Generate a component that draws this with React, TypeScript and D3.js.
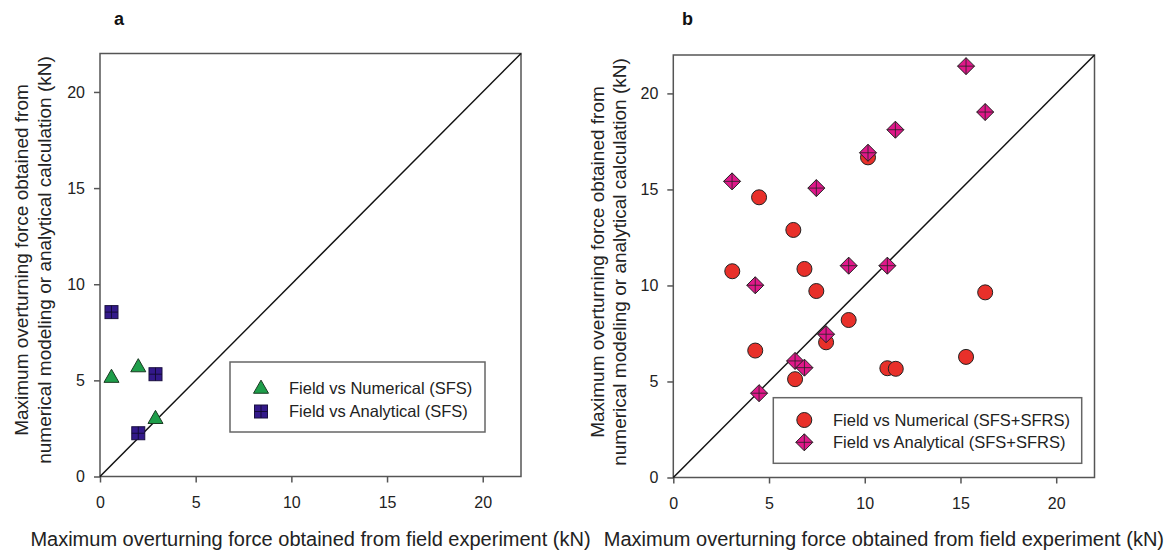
import React, { useRef, useEffect } from 'react';
import * as d3 from 'd3';

// panel a (SFS)
const aNumField = [0.6, 2.0, 2.9];
const aNumValue = [5.17, 5.72, 3.03];
const aAnaField = [0.6, 2.9, 2.0];
const aAnaValue = [8.55, 5.32, 2.25];

// panel b (SFS+SFRS)
const bNumField = [3.08, 4.28, 4.48, 6.27, 6.36, 6.85, 7.47, 7.98, 9.16, 10.17, 11.18, 11.62, 15.29, 16.29];
const bNumValue = [10.74, 6.61, 14.59, 12.89, 5.12, 10.86, 9.71, 7.04, 8.2, 16.67, 5.69, 5.66, 6.28, 9.64];
const bAnaField = [3.07, 4.28, 4.48, 6.36, 6.85, 7.47, 7.98, 9.16, 10.17, 11.18, 11.6, 15.29, 16.29];
const bAnaValue = [15.42, 10.01, 4.39, 6.07, 5.72, 15.07, 7.46, 11.03, 16.91, 11.03, 18.11, 21.42, 19.03];

const ticks = [0, 5, 10, 15, 20];
const axisMax = 22;

const xTitle = 'Maximum overturning force obtained from field experiment (kN)';
const yTitle1 = 'Maximum overturning force obtained from';
const yTitle2 = 'numerical modeling or analytical calculation (kN)';

const FONT = '"Liberation Sans", Arial, sans-serif';

type Marker = 'circle' | 'diamond' | 'square' | 'triangle';

const drawMarker = (g: any, kind: Marker, x: number, y: number, s: number) => {
  const stroke = '#222';
  if (kind === 'circle') {
    g.append('circle').attr('cx', x).attr('cy', y).attr('r', s)
      .attr('fill', '#e8302a').attr('stroke', stroke).attr('stroke-width', 1);
  } else if (kind === 'diamond') {
    g.append('path')
      .attr('d', `M${x},${y - s}L${x + s},${y}L${x},${y + s}L${x - s},${y}Z`)
      .attr('fill', '#e0188a').attr('stroke', stroke).attr('stroke-width', 1);
    g.append('path')
      .attr('d', `M${x - s},${y}H${x + s}M${x},${y - s}V${y + s}`)
      .attr('stroke', stroke).attr('stroke-width', 0.8);
  } else if (kind === 'square') {
    g.append('rect').attr('x', x - s).attr('y', y - s).attr('width', 2 * s).attr('height', 2 * s)
      .attr('fill', '#33198a').attr('stroke', '#1a1040').attr('stroke-width', 1);
    g.append('path')
      .attr('d', `M${x - s},${y}H${x + s}M${x},${y - s}V${y + s}`)
      .attr('stroke', '#120a30').attr('stroke-width', 0.9);
  } else {
    const h = s * 1.75;
    g.append('path')
      .attr('d', `M${x},${y - h * 0.6}L${x + s},${y + h * 0.4}L${x - s},${y + h * 0.4}Z`)
      .attr('fill', '#1e9e4a').attr('stroke', '#1a3a22').attr('stroke-width', 1);
  }
};

interface Series {
  xs: number[];
  ys: number[];
  marker: Marker;
  size: number;
  label: string;
}

interface Panel {
  letter: string;
  letterX: number;
  left: number;
  right: number;
  top: number;
  bottom: number;
  yLines: [number, number];
  yCenter: number;
  series: Series[];
  legend: { x: number; y: number; w: number; h: number; symX: number; textX: number; rows: number[] };
}

const panels: Panel[] = [
  {
    letter: 'a', letterX: 114, left: 100, right: 521, top: 53.5, bottom: 476.5,
    yLines: [21, 44], yCenter: 260,
    series: [
      { xs: aNumField, ys: aNumValue, marker: 'triangle', size: 7.5, label: 'Field vs Numerical (SFS)' },
      { xs: aAnaField, ys: aAnaValue, marker: 'square', size: 6.5, label: 'Field vs Analytical (SFS)' },
    ],
    legend: { x: 230, y: 362, w: 255, h: 70, symX: 261, textX: 289, rows: [388, 411.5] },
  },
  {
    letter: 'b', letterX: 682, left: 673.3, right: 1094.5, top: 55, bottom: 477.5,
    yLines: [597, 619], yCenter: 262,
    series: [
      { xs: bNumField, ys: bNumValue, marker: 'circle', size: 7.5, label: 'Field vs Numerical (SFS+SFRS)' },
      { xs: bAnaField, ys: bAnaValue, marker: 'diamond', size: 8.5, label: 'Field vs Analytical (SFS+SFRS)' },
    ],
    legend: { x: 773.3, y: 397.7, w: 308.4, h: 65.6, symX: 804.3, textX: 833, rows: [420, 442.3] },
  },
];

const App: React.FC = () => {
  const ref = useRef<SVGSVGElement | null>(null);

  useEffect(() => {
    if (!ref.current) return;
    const svg = d3.select(ref.current);
    svg.selectAll('*').remove();

    panels.forEach(p => {
      const x = d3.scaleLinear().domain([0, axisMax]).range([p.left, p.right]);
      const y = d3.scaleLinear().domain([0, axisMax]).range([p.bottom, p.top]);
      const g = svg.append('g');

      // frame
      g.append('rect')
        .attr('x', p.left).attr('y', p.top)
        .attr('width', p.right - p.left).attr('height', p.bottom - p.top)
        .attr('fill', 'none').attr('stroke', '#555').attr('stroke-width', 1.5);

      // axes
      const xAxis = d3.axisBottom(x).tickValues(ticks).tickSize(6).tickPadding(14);
      const yAxis = d3.axisLeft(y).tickValues(ticks).tickSize(6).tickPadding(9);
      const gx = g.append('g').attr('transform', `translate(0,${p.bottom})`).call(xAxis);
      const gy = g.append('g').attr('transform', `translate(${p.left},0)`).call(yAxis);
      [gx, gy].forEach(a => {
        a.select('.domain').remove();
        a.selectAll('line').attr('stroke', '#555').attr('stroke-width', 1.5);
        a.selectAll('text').attr('font-family', FONT).attr('font-size', 16).attr('fill', '#222');
      });

      // 1:1 line
      g.append('line')
        .attr('x1', x(0)).attr('y1', y(0)).attr('x2', x(axisMax)).attr('y2', y(axisMax))
        .attr('stroke', '#111').attr('stroke-width', 1.5);

      // points
      p.series.forEach(s => {
        s.xs.forEach((v, i) => drawMarker(g, s.marker, x(v), y(s.ys[i]), s.size));
      });

      // legend
      const L = p.legend;
      g.append('rect').attr('x', L.x).attr('y', L.y).attr('width', L.w).attr('height', L.h)
        .attr('fill', '#fff').attr('stroke', '#666').attr('stroke-width', 1.5);
      p.series.forEach((s, i) => {
        drawMarker(g, s.marker, L.symX, L.rows[i], s.size);
        g.append('text').attr('x', L.textX).attr('y', L.rows[i]).attr('dy', '0.35em')
          .attr('font-family', FONT).attr('font-size', 16.5).attr('fill', '#222').text(s.label);
      });

      // titles
      const cx = (p.left + p.right) / 2;
      g.append('text').attr('x', cx).attr('y', 546).attr('text-anchor', 'middle')
        .attr('font-family', FONT).attr('font-size', 20).attr('fill', '#222').text(xTitle);
      [yTitle1, yTitle2].forEach((t, i) => {
        g.append('text')
          .attr('transform', `translate(${p.yLines[i]},${p.yCenter}) rotate(-90)`)
          .attr('text-anchor', 'middle').attr('dy', '0.35em')
          .attr('font-family', FONT).attr('font-size', 19).attr('fill', '#222').text(t);
      });
      g.append('text').attr('x', p.letterX).attr('y', 25)
        .attr('font-family', FONT).attr('font-size', 18).attr('font-weight', 'bold').attr('fill', '#111')
        .text(p.letter);
    });
  }, []);

  return (
    <svg ref={ref} width={1171} height={550}
      style={{ position: 'absolute', left: 0, top: 0, background: '#fff' }} />
  );
};

export default App;
